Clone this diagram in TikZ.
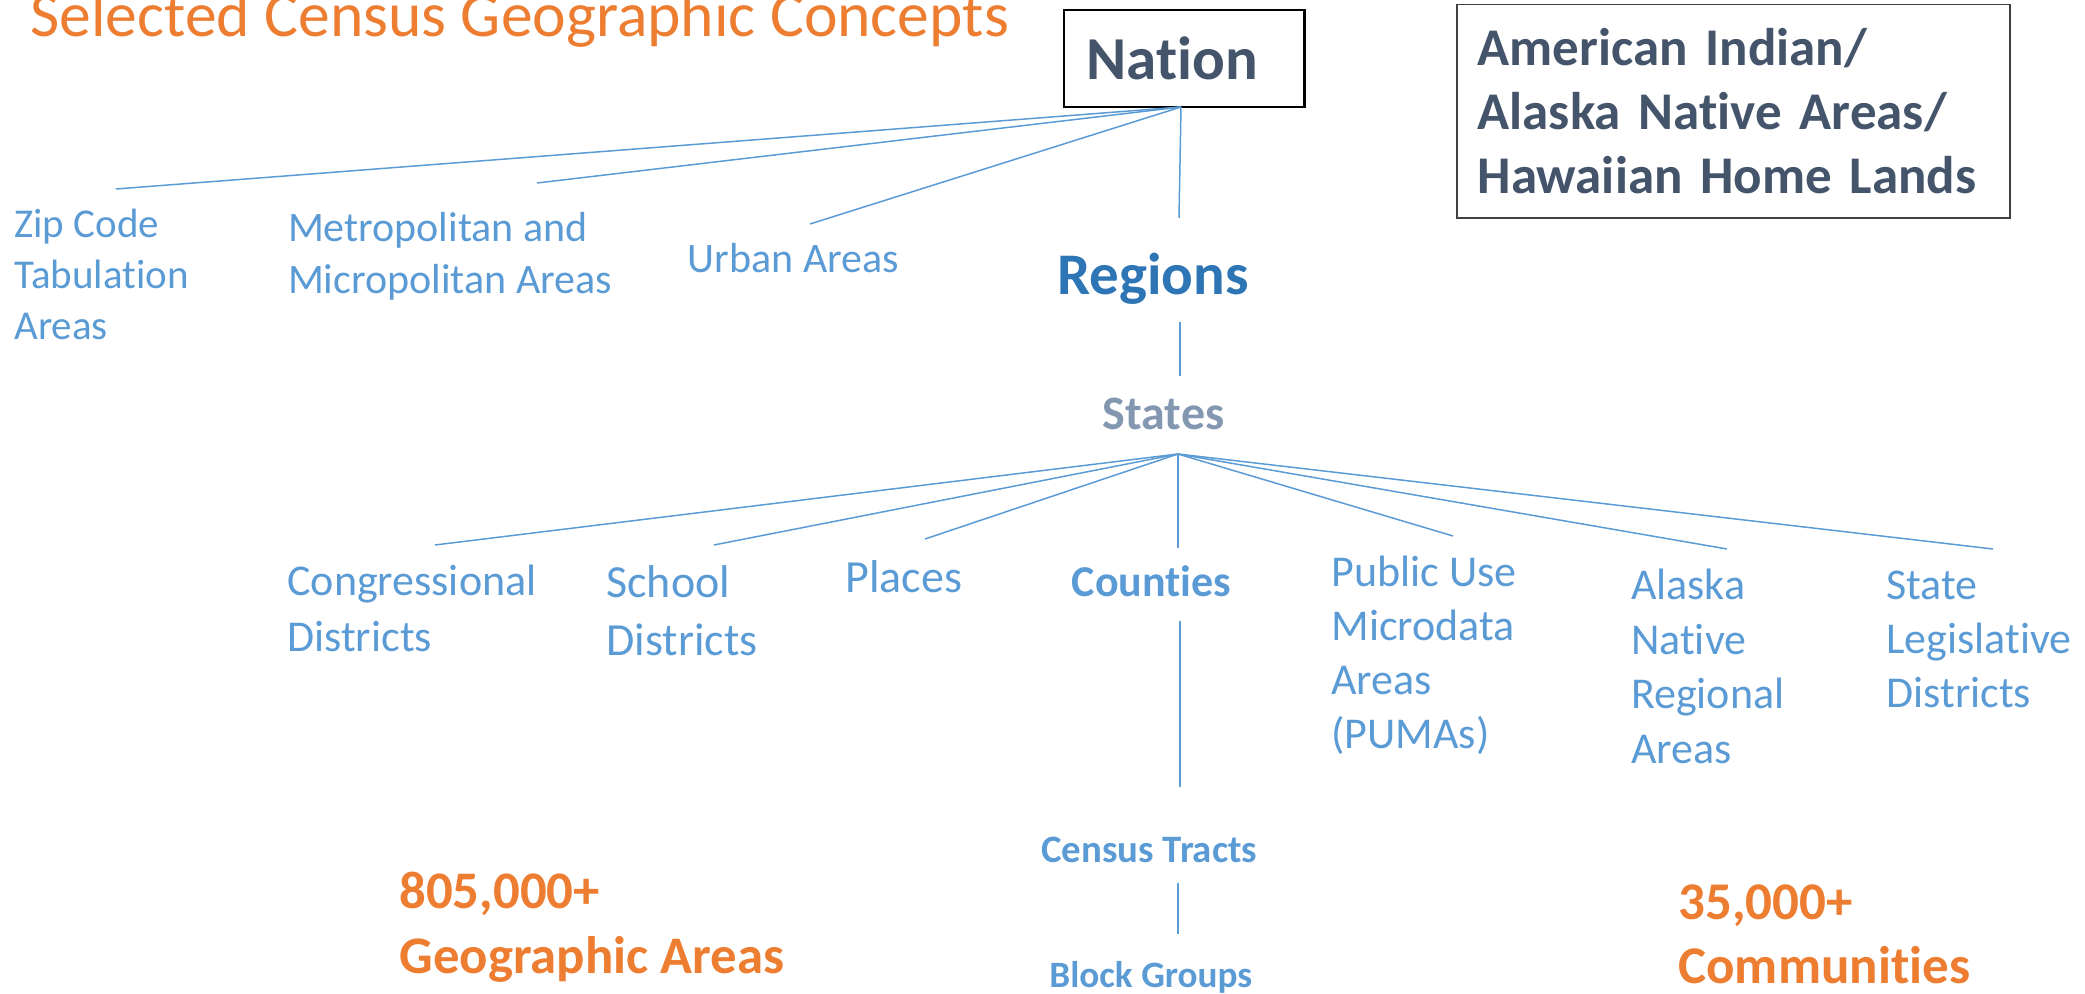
\documentclass[tikz,border=0pt]{standalone}
\usepackage{fontspec}
\setmainfont{Carlito}[Ligatures=NoCommon]
\definecolor{orng}{HTML}{ED7D31}
\definecolor{slate}{HTML}{44546A}
\definecolor{acc}{HTML}{5B9BD5}
\definecolor{accdark}{HTML}{2E75B6}
\definecolor{stategray}{HTML}{8497B0}
\definecolor{boxgray}{HTML}{404040}
\begin{document}
\begin{tikzpicture}[x=0.5pt,y=-0.5pt,
  lbl/.style={anchor=base west, inner sep=0pt, align=left, text=acc},
  conn/.style={draw=acc, line width=0.75pt},
  fs/.style 2 args={font=\fontsize{#1}{#2}\selectfont},
  fb/.style 2 args={font=\fontsize{#1}{#2}\selectfont\bfseries}]
\useasboundingbox (0,0) rectangle (2085,994);
% title
\node[lbl, text=orng, fs={31.8}{38}] (title) at (30,37) {Selected Census Geographic Concepts};
% top boxes
\node[draw=black, line width=1.25pt, minimum width=120.25pt, minimum height=48.5pt,
      text width=97.75pt, inner xsep=11.25pt, inner ysep=0pt, align=left,
      text=slate, fb={30.5}{36}] (nation) at (1184.25,58.5) {Nation};
\node[draw=boxgray, line width=0.75pt, minimum width=276.5pt, minimum height=106.65pt,
      text width=255.7pt, inner xsep=10.4pt, inner ysep=0pt, align=left, text=slate,
      fb={26.5}{32}] (aian) at (1733.35,111.35)
      {American Indian/\\Alaska Native Areas/\\Hawaiian Home Lands};
% first level (anchor = baseline of last line)
\node[lbl, fs={20.5}{25.5}] (zip) at (14,340) {Zip Code\\Tabulation\\Areas};
\node[lbl, fs={21}{26}] (metro) at (287.6,294) {Metropolitan and\\Micropolitan Areas};
\node[lbl, fs={21}{26}] (urban) at (687.5,273) {Urban Areas};
\node[lbl, text=accdark, fb={29.5}{35}] (regions) at (1056.7,295) {Regions};
\node[lbl, text=stategray, fb={24}{29}] (states) at (1102.4,430) {States};
% second level
\node[lbl, fs={22}{28}] (cong) at (287,652) {Congressional\\Districts};
\node[lbl, fs={23}{29}] (school) at (606,656) {School\\Districts};
\node[lbl, fs={23}{29}] (places) at (845,593) {Places};
\node[lbl, fb={22}{27}] (counties) at (1071.4,597) {Counties};
\node[lbl, fs={22}{27}] (puma) at (1331,748) {Public Use\\Microdata\\Areas\\(PUMAs)};
\node[lbl, fs={22}{27.25}] (anra) at (1630.7,763) {Alaska\\Native\\Regional\\Areas};
\node[lbl, fs={22}{27.25}] (sld) at (1886,708) {State\\Legislative\\Districts};
\node[lbl, fb={19.4}{23}] (tracts) at (1041,862) {Census Tracts};
\node[lbl, fb={18.6}{23}] (block) at (1049,987) {Block Groups};
% counts
\node[lbl, text=orng, fb={26.4}{32.5}] (geo) at (399,973) {805,000+\\Geographic Areas};
\node[lbl, text=orng, fb={26.5}{32}] (comm) at (1678,983) {35,000+\\Communities};
% connector hubs and free ends
\coordinate (nhub) at (1181,107);
\coordinate (zipEnd) at (116,189);
\coordinate (metroEnd) at (537,183);
\coordinate (urbanEnd) at (810,224);
\coordinate (regTop) at (1179,218);
\coordinate (regBot) at (1180,322);
\coordinate (stTop) at (1180,376);
\coordinate (shub) at (1178,454);
\coordinate (congEnd) at (435,545);
\coordinate (schoolEnd) at (714,545);
\coordinate (placesEnd) at (925,539);
\coordinate (cntyTop) at (1178,548);
\coordinate (pumaEnd) at (1453,536);
\coordinate (anraEnd) at (1727,549);
\coordinate (sldEnd) at (1993,549);
\coordinate (cntyBot) at (1180,621);
\coordinate (trTop) at (1180,787);
\coordinate (trBot) at (1178,883);
\coordinate (bgTop) at (1178,934);
% connectors
\draw[conn] (nhub) -- (zipEnd);
\draw[conn] (nhub) -- (metroEnd);
\draw[conn] (nhub) -- (urbanEnd);
\draw[conn] (nhub) -- (regTop);
\draw[conn] (regBot) -- (stTop);
\draw[conn] (shub) -- (congEnd);
\draw[conn] (shub) -- (schoolEnd);
\draw[conn] (shub) -- (placesEnd);
\draw[conn] (shub) -- (cntyTop);
\draw[conn] (shub) -- (pumaEnd);
\draw[conn] (shub) -- (anraEnd);
\draw[conn] (shub) -- (sldEnd);
\draw[conn] (cntyBot) -- (trTop);
\draw[conn] (trBot) -- (bgTop);
\end{tikzpicture}
\end{document}
